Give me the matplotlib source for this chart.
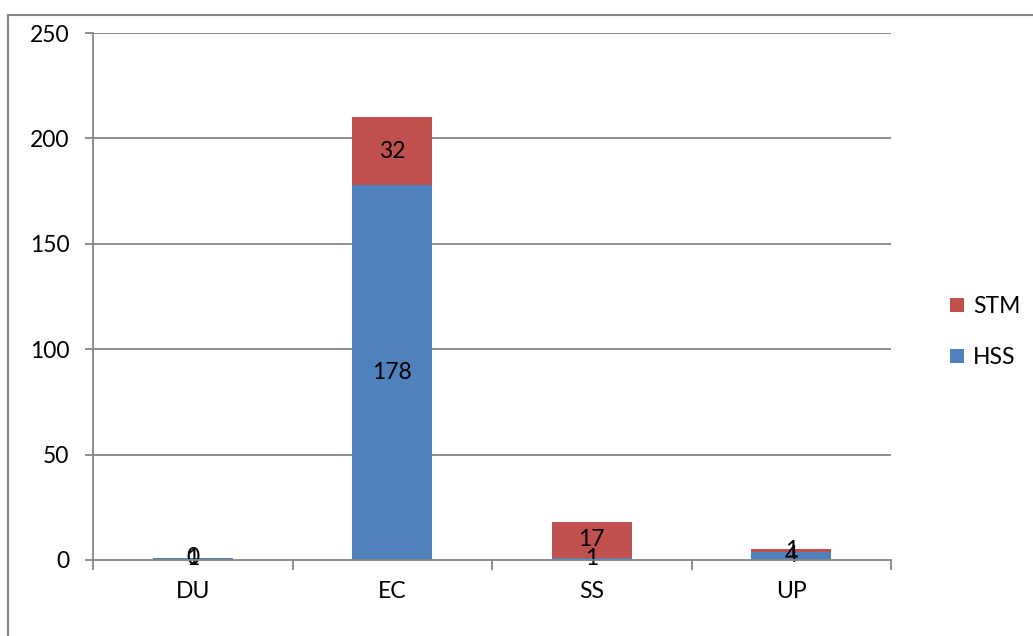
import matplotlib
matplotlib.use("Agg")
import matplotlib.pyplot as plt
from matplotlib.lines import Line2D
from matplotlib.patches import Patch
import numpy as np

categories = ["DU", "EC", "SS", "UP"]
hss = [1, 178, 1, 4]
stm = [0, 32, 17, 1]
yticks = [0, 50, 100, 150, 200, 250]

plt.rcParams['font.family'] = ['Lato', 'DejaVu Sans']
FS = 16.5
GRID = '#868686'
C_HSS = '#4F81BD'
C_STM = '#C0504D'

W, H = 1033, 636
fig = plt.figure(figsize=(W / 100, H / 100), dpi=100)
ax = fig.add_axes([93 / W, 1 - 560 / H, (891 - 93) / W, (560 - 33) / H])

x = np.arange(len(categories))
ax.bar(x, hss, width=0.4, color=C_HSS, zorder=3)
ax.bar(x, stm, width=0.4, bottom=hss, color=C_STM, zorder=3)

for xi, h, s in zip(x, hss, stm):
    ax.text(xi, h / 2, str(h), ha='center', va='center', fontsize=FS, zorder=4)
    ax.text(xi, h + s / 2, str(s), ha='center', va='center', fontsize=FS, zorder=4)

ax.set_xlim(-0.5, len(categories) - 0.5)
ax.set_ylim(0, 250)
ax.set_yticks(yticks)
ax.set_yticklabels([str(v) for v in yticks], fontsize=FS)
for v in yticks[1:]:
    ax.axhline(v, color=GRID, lw=1.3, zorder=1)

ax.set_xticks(x)
ax.set_xticklabels(categories, fontsize=FS)
ax.tick_params(axis='x', length=0, pad=15)
ax.set_xticks(np.arange(-0.5, len(categories)), minor=True)
ax.tick_params(axis='x', which='minor', length=7, width=1.3, color=GRID, direction='out')
ax.tick_params(axis='y', length=6, width=1.3, color=GRID, direction='out', pad=11)

for s in ['top', 'right']:
    ax.spines[s].set_visible(False)
for s in ['left', 'bottom']:
    ax.spines[s].set_color(GRID)
    ax.spines[s].set_linewidth(1.3)
    ax.spines[s].set_zorder(5)

handles = [Patch(facecolor=C_STM, label='STM'), Patch(facecolor=C_HSS, label='HSS')]
fig.legend(handles=handles, loc='center left', bbox_to_anchor=(941 / W, 1 - 332 / H),
           frameon=False, fontsize=FS, handlelength=0.6, handleheight=0.6,
           handletextpad=0.4, labelspacing=1.3, borderaxespad=0)

# outer frame
fig.add_artist(Line2D([8 / W, 1.0], [1 - 15 / H, 1 - 15 / H], color=GRID, lw=1.5))
fig.add_artist(Line2D([8 / W, 8 / W], [1 - 15 / H, 0], color=GRID, lw=1.5))

fig.savefig('out.png', dpi=100)
